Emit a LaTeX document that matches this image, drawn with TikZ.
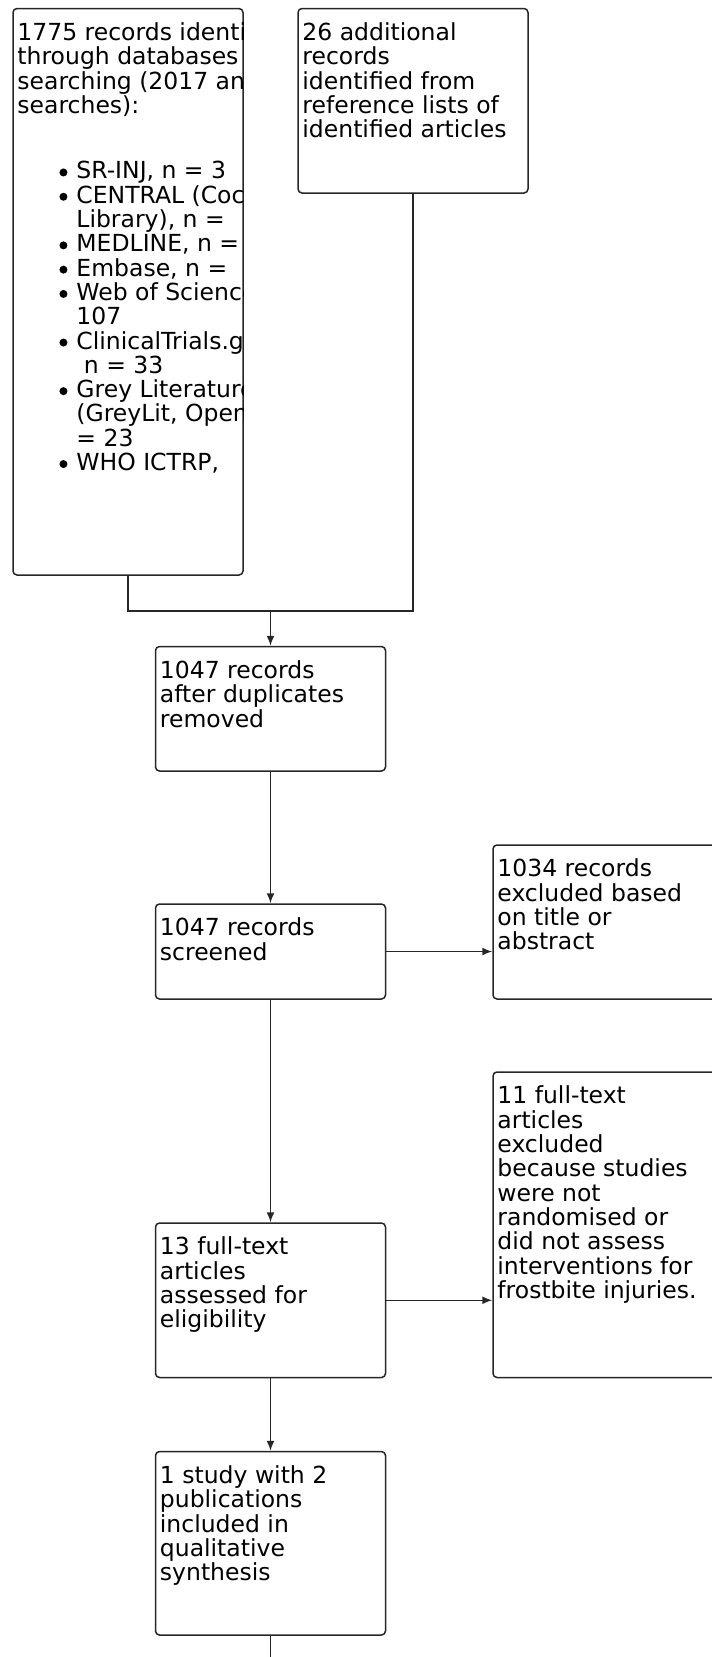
\documentclass[tikz,border=0pt]{standalone}
\usepackage{fontspec}
\newfontfamily\boxfont{DejaVu Sans}
\usetikzlibrary{positioning, arrows.meta}

\tikzset{
  box/.style={rectangle, draw=black!85, line width=1.5pt, rounded corners=4pt, minimum width=230pt, inner sep=0pt},
  txt/.style={inner sep=0pt, align=left, font=\boxfont\fontsize{23.5}{24.3}\selectfont},
  line/.style={draw=black!85, line width=1.5pt},
  arr/.style={line, -{Latex[length=10pt,width=8pt]}}
}
\newcommand{\fl}{\rule{0pt}{18pt}}
\newcommand{\bul}{\llap{\tikz[baseline=-6.5pt]\fill (0,0) circle (4pt);\hspace{9pt}}}

\begin{document}
\begin{tikzpicture}[x=1pt,y=1pt]
  \useasboundingbox (0,0) rectangle (712,-1657);
  \clip (0,0) rectangle (712,-1657);

  % boxes
  \node[box, minimum height=566.5pt] (src) at (128,-291.75) {};
  \node[box, minimum height=184.5pt] (refs) at (413,-100.75) {};
  \node[box, minimum height=124.5pt] (dedup) at (270.5,-708.75) {};
  \node[box, minimum height=95pt] (screen) at (270.5,-951.5) {};
  \node[box, minimum height=154pt] (excl1) at (608,-922) {};
  \node[box, minimum height=154.5pt] (full) at (270.5,-1300.25) {};
  \node[box, minimum height=305.5pt] (excl2) at (608,-1224.75) {};
  \node[box, minimum height=183.5pt] (incl) at (270.5,-1543.25) {};

  % texts
  \begin{scope}
    \clip (src.north west) rectangle (src.south east);
    \node[txt, below right=14.5pt and 5pt of src.north west] (srchead) {\fl 1775 records identified\\through databases\\searching (2017 and\\searches):};
    \node[txt, below right=153pt and 64pt of src.north west] (srclist) {\fl\bul SR-INJ, n = 3\\
      \bul CENTRAL (Cochrane\\Library), n =\\
      \bul MEDLINE, n =\\
      \bul Embase, n =\\
      \bul Web of Science\\107\\
      \bul ClinicalTrials.gov\\\ n = 33\\
      \bul Grey Literature\\(GreyLit, OpenGrey\\= 23\\
      \bul WHO ICTRP,};
  \end{scope}
  \node[txt, below right=14.5pt and 5pt of refs.north west] (refstxt) {\fl 26 additional\\records\\identified from\\reference lists of\\identified articles};
  \node[txt, below right=14.5pt and 5pt of dedup.north west] (deduptxt) {\fl 1047 records\\after duplicates\\removed};
  \node[txt, below right=14.5pt and 5pt of screen.north west] (screentxt) {\fl 1047 records\\screened};
  \node[txt, below right=14.5pt and 5pt of excl1.north west] (excl1txt) {\fl 1034 records\\excluded based\\on title or\\abstract};
  \node[txt, below right=14.5pt and 5pt of full.north west] (fulltxt) {\fl 13 full-text\\articles\\assessed for\\eligibility};
  \node[txt, below right=14.5pt and 5pt of excl2.north west] (excl2txt) {\fl 11 full-text\\articles\\excluded\\because studies\\were not\\randomised or\\did not assess\\interventions for\\frostbite injuries.};
  \node[txt, below right=14.5pt and 5pt of incl.north west] (incltxt) {\fl 1 study with 2\\publications\\included in\\qualitative\\synthesis};

  % connectors
  \coordinate (join) at (270.5,-611);
  \coordinate (out) at (270.5,-1665);
  \draw[line] (src.south) |- (join) -| (refs.south);
  \draw[arr] (join) -- (dedup.north);
  \draw[arr] (dedup) -- (screen);
  \draw[arr] (screen.east) -- (screen.east -| excl1.west);
  \draw[arr] (screen) -- (full);
  \draw[arr] (full.east) -- (full.east -| excl2.west);
  \draw[arr] (full) -- (incl);
  \draw[line] (incl) -- (out);
\end{tikzpicture}
\end{document}
